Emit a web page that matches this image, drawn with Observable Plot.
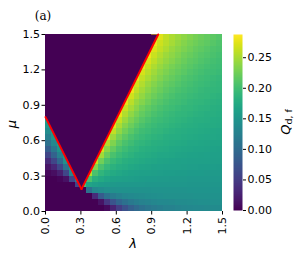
<!DOCTYPE html>
<html><head><meta charset="utf-8">
<script src="https://cdn.jsdelivr.net/npm/d3@7"></script>
<script src="https://cdn.jsdelivr.net/npm/@observablehq/plot@0.6"></script>
<style>
body{margin:0;background:#fff;}
#wrap{position:relative;width:294px;height:257px;overflow:hidden;}
#wrap svg{position:absolute;top:0;}
</style></head><body><div id="wrap"></div>
<script>
// grid edges (cell boundaries)
const lamEdges = [0,0.05,0.1,0.15,0.2,0.25,0.3,0.35,0.4,0.45,0.5,0.55,0.6,0.65,0.7,0.75,0.8,0.85,0.9,0.95,1.0,1.05,1.1,1.15,1.2,1.25,1.3,1.35,1.4,1.45,1.5];
const muEdgesTopDown = [1.5,1.45,1.4,1.35,1.3,1.25,1.2,1.15,1.1,1.05,1.0,0.95,0.9,0.85,0.8,0.75,0.7,0.65,0.6,0.55,0.5,0.45,0.4,0.35,0.3,0.25,0.2,0.15,0.1,0.05,0];
// Q_{d,f} values, rows from top (mu=1.5) to bottom (mu=0), columns lambda 0 -> 1.5
const qRows = [
[0,0,0,0,0,0,0,0,0,0,0,0,0,0,0,0,0,0,0.285,0.274,0.262,0.253,0.246,0.239,0.233,0.228,0.223,0.219,0.215,0.211],
[0,0,0,0,0,0,0,0,0,0,0,0,0,0,0,0,0,0,0.281,0.266,0.257,0.249,0.241,0.235,0.229,0.224,0.220,0.216,0.212,0.208],
[0,0,0,0,0,0,0,0,0,0,0,0,0,0,0,0,0,0.285,0.273,0.261,0.252,0.244,0.237,0.231,0.225,0.220,0.216,0.212,0.208,0.205],
[0,0,0,0,0,0,0,0,0,0,0,0,0,0,0,0,0,0.281,0.265,0.255,0.246,0.239,0.232,0.226,0.221,0.217,0.212,0.209,0.205,0.202],
[0,0,0,0,0,0,0,0,0,0,0,0,0,0,0,0,0.285,0.272,0.259,0.249,0.241,0.234,0.228,0.222,0.217,0.213,0.209,0.205,0.202,0.200],
[0,0,0,0,0,0,0,0,0,0,0,0,0,0,0,0,0.280,0.264,0.253,0.244,0.236,0.229,0.223,0.218,0.213,0.209,0.205,0.202,0.200,0.197],
[0,0,0,0,0,0,0,0,0,0,0,0,0,0,0,0.285,0.269,0.257,0.247,0.238,0.231,0.224,0.219,0.214,0.209,0.205,0.202,0.199,0.197,0.195],
[0,0,0,0,0,0,0,0,0,0,0,0,0,0,0,0.280,0.262,0.251,0.241,0.233,0.226,0.220,0.214,0.209,0.205,0.202,0.199,0.196,0.194,0.192],
[0,0,0,0,0,0,0,0,0,0,0,0,0,0,0.285,0.268,0.255,0.244,0.235,0.227,0.220,0.215,0.210,0.205,0.202,0.199,0.196,0.194,0.192,0.190],
[0,0,0,0,0,0,0,0,0,0,0,0,0,0,0.279,0.260,0.248,0.238,0.229,0.222,0.215,0.210,0.205,0.202,0.198,0.196,0.193,0.191,0.189,0.188],
[0,0,0,0,0,0,0,0,0,0,0,0,0,0.285,0.267,0.252,0.241,0.231,0.223,0.216,0.210,0.205,0.201,0.198,0.195,0.193,0.191,0.189,0.187,0.185],
[0,0,0,0,0,0,0,0,0,0,0,0,0,0.278,0.258,0.244,0.234,0.225,0.217,0.211,0.205,0.201,0.198,0.195,0.192,0.190,0.188,0.186,0.184,0.183],
[0,0,0,0,0,0,0,0,0,0,0,0,0.285,0.265,0.249,0.237,0.226,0.218,0.211,0.205,0.201,0.197,0.194,0.191,0.189,0.187,0.185,0.184,0.182,0.181],
[0,0,0,0,0,0,0,0,0,0,0,0,0.277,0.255,0.240,0.229,0.219,0.212,0.205,0.201,0.196,0.193,0.190,0.188,0.186,0.184,0.183,0.181,0.180,0.178],
[0.160,0,0,0,0,0,0,0,0,0,0,0.280,0.263,0.245,0.231,0.221,0.212,0.205,0.200,0.196,0.193,0.190,0.187,0.185,0.183,0.181,0.180,0.179,0.177,0.176],
[0.152,0,0,0,0,0,0,0,0,0,0,0.276,0.251,0.235,0.223,0.213,0.205,0.200,0.195,0.192,0.189,0.186,0.184,0.182,0.180,0.179,0.177,0.176,0.176,0.175],
[0.139,0.160,0,0,0,0,0,0,0,0,0.280,0.260,0.240,0.225,0.214,0.205,0.199,0.195,0.191,0.188,0.185,0.183,0.181,0.179,0.177,0.176,0.175,0.174,0.173,0.172],
[0.123,0.152,0,0,0,0,0,0,0,0,0.274,0.246,0.228,0.215,0.205,0.199,0.194,0.189,0.186,0.184,0.181,0.179,0.178,0.176,0.175,0.174,0.173,0.172,0.171,0.170],
[0.106,0.134,0.160,0,0,0,0,0,0,0.275,0.255,0.232,0.217,0.205,0.198,0.192,0.188,0.185,0.182,0.180,0.178,0.176,0.175,0.174,0.172,0.171,0.170,0.169,0.168,0.168],
[0.085,0.114,0.149,0,0,0,0,0,0,0.269,0.238,0.219,0.205,0.197,0.191,0.187,0.183,0.180,0.178,0.176,0.175,0.173,0.172,0.170,0.169,0.168,0.168,0.167,0.166,0.165],
[0.060,0.090,0.126,0.155,0,0,0,0,0.270,0.248,0.222,0.205,0.196,0.189,0.185,0.181,0.178,0.176,0.174,0.172,0.171,0.170,0.168,0.167,0.166,0.166,0.165,0.164,0.163,0.163],
[0.035,0.060,0.097,0.145,0,0,0,0,0.265,0.226,0.205,0.194,0.187,0.182,0.178,0.176,0.174,0.172,0.170,0.168,0.167,0.166,0.165,0.164,0.163,0.163,0.162,0.162,0.161,0.161],
[0.016,0.031,0.060,0.110,0.150,0,0,0.260,0.235,0.205,0.192,0.184,0.179,0.176,0.173,0.170,0.168,0.167,0.165,0.164,0.163,0.162,0.162,0.161,0.160,0.160,0.159,0.159,0.159,0.158],
[0.005,0.011,0.024,0.060,0.134,0,0,0.255,0.205,0.188,0.180,0.175,0.171,0.168,0.166,0.164,0.163,0.162,0.161,0.160,0.159,0.159,0.158,0.158,0.157,0.157,0.157,0.156,0.156,0.156],
[0,0,0.004,0.013,0.060,0.120,0.230,0.205,0.182,0.174,0.168,0.165,0.163,0.161,0.160,0.159,0.158,0.157,0.157,0.156,0.156,0.155,0.155,0.155,0.154,0.154,0.154,0.154,0.154,0.154],
[0,0,0,0,0,0.060,0.205,0.168,0.161,0.158,0.156,0.155,0.154,0.154,0.153,0.153,0.153,0.152,0.152,0.152,0.152,0.152,0.152,0.152,0.151,0.151,0.151,0.151,0.151,0.151],
[0,0,0,0,0,0,0,0.107,0.133,0.139,0.143,0.145,0.146,0.146,0.146,0.147,0.147,0.147,0.148,0.148,0.148,0.148,0.148,0.148,0.149,0.149,0.149,0.149,0.149,0.149],
[0,0,0,0,0,0,0,0,0.035,0.082,0.107,0.120,0.127,0.133,0.136,0.138,0.139,0.141,0.142,0.143,0.144,0.144,0.145,0.145,0.145,0.146,0.146,0.146,0.146,0.146],
[0,0,0,0,0,0,0,0,0,0.014,0.047,0.075,0.094,0.107,0.116,0.122,0.126,0.130,0.133,0.135,0.136,0.137,0.139,0.139,0.140,0.141,0.142,0.142,0.143,0.143],
[0,0,0,0,0,0,0,0,0,0,0.007,0.028,0.052,0.071,0.087,0.098,0.107,0.114,0.119,0.122,0.126,0.128,0.131,0.133,0.134,0.135,0.136,0.137,0.138,0.138]
];
// red boundary lines (edges of the Q = 0 wedge)
const redLeftLambda = [0.0, 0.305];
const redLeftMu = [0.80, 0.19];
const redRightLambda = [0.305, 0.955];
const redRightMu = [0.19, 1.5];
// ticks
const axisTicks = [0, 0.3, 0.6, 0.9, 1.2, 1.5];
const colorTicks = [0, 0.05, 0.10, 0.15, 0.20, 0.25];
const colorDomain = [0, 0.288];

const cells = [];
qRows.forEach((row, k) => row.forEach((q, i) => cells.push({
  x1: lamEdges[i], x2: lamEdges[i + 1], y1: muEdgesTopDown[k + 1], y2: muEdgesTopDown[k], q
})));
const leftLine = redLeftLambda.map((l, i) => ({x: l, y: redLeftMu[i]}));
const rightLine = redRightLambda.map((l, i) => ({x: l, y: redRightMu[i]}));
// the zero wedge: top-left corner of the grid, then along both boundary lines
const wedge = [{x: lamEdges[0], y: muEdgesTopDown[0]}, ...leftLine, ...rightLine.slice(1)];
const zeroColor = d3.interpolateViridis(0);

const font = {fontFamily: "DejaVu Sans", fontSize: "11px", background: "transparent", color: "#000", overflow: "visible"};

const main = Plot.plot({
  width: 294, height: 257,
  marginLeft: 45, marginRight: 72, marginTop: 34, marginBottom: 46,
  style: font,
  x: {domain: [0, 1.5]},
  y: {domain: [0, 1.5]},
  color: {type: "linear", scheme: "viridis", domain: colorDomain},
  marks: [
    Plot.rect(cells, {x1: "x1", x2: "x2", y1: "y1", y2: "y2", fill: "q", shapeRendering: "crispEdges"}),
    Plot.line(wedge, {x: "x", y: "y", fill: zeroColor, stroke: "none"}),
    Plot.line(leftLine, {x: "x", y: "y", stroke: "#ff0000", strokeWidth: 2}),
    Plot.line(rightLine, {x: "x", y: "y", stroke: "#ff0000", strokeWidth: 2}),
    Plot.axisX({ticks: axisTicks, tickFormat: d3.format(".1f"), tickRotate: -90, tickSize: 3.5, tickPadding: 2, label: null}),
    Plot.axisY({ticks: axisTicks, tickFormat: d3.format(".1f"), tickSize: 3.5, tickPadding: 2, label: null})
  ]
});
main.style.left = "0px";
const ms = d3.select(main);
ms.append("text").attr("x", 43).attr("y", 20).attr("font-family", "DejaVu Serif").attr("font-size", 12).text("(a)");
ms.append("text").attr("transform", "translate(16,124) rotate(-90)").attr("text-anchor", "middle")
  .attr("font-family", "DejaVu Sans").attr("font-style", "italic").attr("font-size", 13).text("μ");
ms.append("text").attr("x", 133).attr("y", 248).attr("text-anchor", "middle")
  .attr("font-family", "DejaVu Sans").attr("font-style", "italic").attr("font-size", 13).text("λ");

const cbar = Plot.plot({
  width: 72, height: 257,
  marginLeft: 11, marginRight: 52, marginTop: 34, marginBottom: 47,
  style: font,
  x: {domain: [0, 1], axis: null},
  y: {domain: colorDomain},
  color: {type: "linear", scheme: "viridis", domain: colorDomain},
  marks: [
    Plot.raster({x1: 0, x2: 1, y1: colorDomain[0], y2: colorDomain[1], width: 1, height: 256, fill: (x, y) => y}),
    Plot.axisY({anchor: "right", ticks: colorTicks, tickFormat: d3.format(".2f"), tickSize: 3, tickPadding: 2, label: null})
  ]
});
cbar.style.left = "222px";
const cl = d3.select(cbar).append("text").attr("transform", "translate(68,122) rotate(-90)").attr("text-anchor", "middle")
  .attr("font-family", "DejaVu Sans").attr("font-size", 13);
cl.append("tspan").attr("font-style", "italic").text("Q");
cl.append("tspan").attr("font-size", 9.5).attr("dy", 2).text("d, f");

const wrap = document.getElementById("wrap");
wrap.appendChild(main);
wrap.appendChild(cbar);
</script>
</body></html>
